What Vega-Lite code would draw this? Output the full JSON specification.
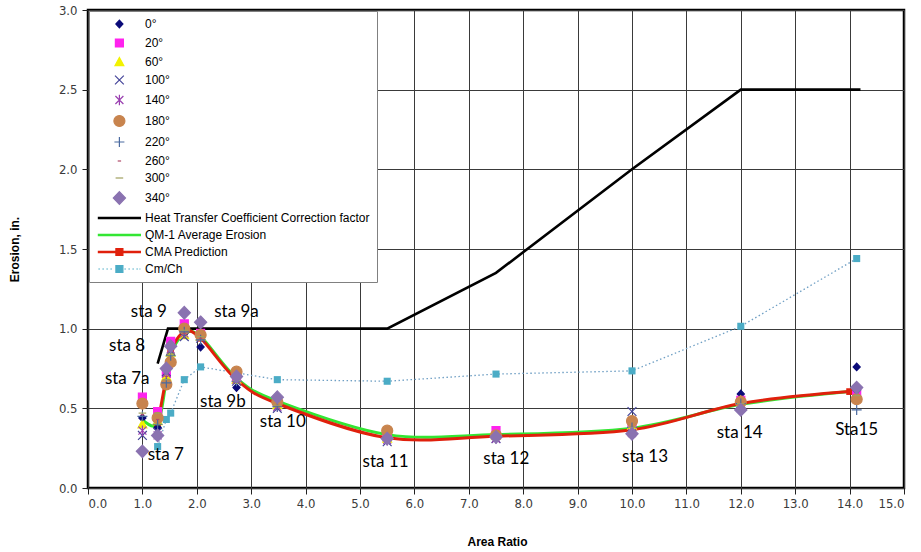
{
  "$schema": "https://vega.github.io/schema/vega-lite/v6.json",
  "width": 816,
  "height": 478,
  "autosize": "none",
  "padding": {"left": 88, "top": 10, "right": 17, "bottom": 64},
  "background": "white",
  "config": {
    "view": {"stroke": "black", "strokeWidth": 2.5},
    "axis": {
      "grid": true,
      "gridColor": "#3a3a3a",
      "gridWidth": 1,
      "domain": false,
      "tickColor": "#222222",
      "tickSize": 6,
      "labelFont": "Liberation Sans Narrow, DejaVu Sans Condensed, Liberation Sans",
      "labelFontSize": 13,
      "labelColor": "#3a3a3a",
      "titleFont": "Liberation Sans",
      "titleFontSize": 12,
      "titleFontWeight": "bold",
      "titleColor": "black"
    },
    "legend": {
      "orient": "top-left",
      "offset": 1,
      "fillColor": "white",
      "strokeColor": "#808080",
      "padding": 7,
      "rowPadding": 5,
      "labelFont": "Liberation Sans",
      "labelFontSize": 12,
      "labelColor": "black",
      "labelOffset": 37,
      "labelLimit": 400,
      "symbolSize": 100,
      "symbolStrokeWidth": 1.2,
      "symbolOpacity": 1
    }
  },
  "resolve": {"scale": {"fill": "independent", "stroke": "independent", "shape": "independent"}},
  "datasets": {
    "angles": [
      {"s": "0°", "x": 1.0, "y": 0.44}, {"s": "0°", "x": 1.28, "y": 0.38}, {"s": "0°", "x": 1.44, "y": 0.68}, {"s": "0°", "x": 1.52, "y": 0.84}, {"s": "0°", "x": 1.77, "y": 0.97}, {"s": "0°", "x": 2.07, "y": 0.885}, {"s": "0°", "x": 2.73, "y": 0.63}, {"s": "0°", "x": 3.48, "y": 0.52}, {"s": "0°", "x": 5.5, "y": 0.30}, {"s": "0°", "x": 7.5, "y": 0.32}, {"s": "0°", "x": 10.0, "y": 0.36}, {"s": "0°", "x": 12.0, "y": 0.59}, {"s": "0°", "x": 14.13, "y": 0.76},
      {"s": "20°", "x": 1.0, "y": 0.57}, {"s": "20°", "x": 1.28, "y": 0.48}, {"s": "20°", "x": 1.44, "y": 0.72}, {"s": "20°", "x": 1.52, "y": 0.92}, {"s": "20°", "x": 1.77, "y": 1.03}, {"s": "20°", "x": 2.07, "y": 0.97}, {"s": "20°", "x": 2.73, "y": 0.69}, {"s": "20°", "x": 3.48, "y": 0.54}, {"s": "20°", "x": 5.5, "y": 0.32}, {"s": "20°", "x": 7.5, "y": 0.36}, {"s": "20°", "x": 10.0, "y": 0.40}, {"s": "20°", "x": 12.0, "y": 0.55}, {"s": "20°", "x": 14.13, "y": 0.60},
      {"s": "60°", "x": 1.0, "y": 0.40}, {"s": "60°", "x": 1.28, "y": 0.42}, {"s": "60°", "x": 1.44, "y": 0.70}, {"s": "60°", "x": 1.52, "y": 0.85}, {"s": "60°", "x": 1.77, "y": 0.96}, {"s": "60°", "x": 2.07, "y": 0.95}, {"s": "60°", "x": 2.73, "y": 0.68}, {"s": "60°", "x": 3.48, "y": 0.52}, {"s": "60°", "x": 5.5, "y": 0.31}, {"s": "60°", "x": 7.5, "y": 0.33}, {"s": "60°", "x": 10.0, "y": 0.39}, {"s": "60°", "x": 12.0, "y": 0.55}, {"s": "60°", "x": 14.13, "y": 0.58},
      {"s": "100°", "x": 1.0, "y": 0.33}, {"s": "100°", "x": 1.28, "y": 0.35}, {"s": "100°", "x": 1.44, "y": 0.73}, {"s": "100°", "x": 1.52, "y": 0.86}, {"s": "100°", "x": 1.77, "y": 0.95}, {"s": "100°", "x": 2.07, "y": 0.94}, {"s": "100°", "x": 2.73, "y": 0.67}, {"s": "100°", "x": 3.48, "y": 0.50}, {"s": "100°", "x": 5.5, "y": 0.29}, {"s": "100°", "x": 7.5, "y": 0.31}, {"s": "100°", "x": 10.0, "y": 0.48}, {"s": "100°", "x": 12.0, "y": 0.53}, {"s": "100°", "x": 14.13, "y": 0.59},
      {"s": "140°", "x": 1.0, "y": 0.36}, {"s": "140°", "x": 1.28, "y": 0.33}, {"s": "140°", "x": 1.44, "y": 0.72}, {"s": "140°", "x": 1.52, "y": 0.87}, {"s": "140°", "x": 1.77, "y": 0.97}, {"s": "140°", "x": 2.07, "y": 0.95}, {"s": "140°", "x": 2.73, "y": 0.68}, {"s": "140°", "x": 3.48, "y": 0.51}, {"s": "140°", "x": 5.5, "y": 0.30}, {"s": "140°", "x": 7.5, "y": 0.31}, {"s": "140°", "x": 10.0, "y": 0.345}, {"s": "140°", "x": 12.0, "y": 0.52}, {"s": "140°", "x": 14.13, "y": 0.60},
      {"s": "180°", "x": 1.0, "y": 0.53}, {"s": "180°", "x": 1.28, "y": 0.44}, {"s": "180°", "x": 1.44, "y": 0.65}, {"s": "180°", "x": 1.52, "y": 0.79}, {"s": "180°", "x": 1.77, "y": 1.00}, {"s": "180°", "x": 2.07, "y": 0.96}, {"s": "180°", "x": 2.73, "y": 0.73}, {"s": "180°", "x": 3.48, "y": 0.54}, {"s": "180°", "x": 5.5, "y": 0.36}, {"s": "180°", "x": 7.5, "y": 0.33}, {"s": "180°", "x": 10.0, "y": 0.42}, {"s": "180°", "x": 12.0, "y": 0.54}, {"s": "180°", "x": 14.13, "y": 0.557},
      {"s": "220°", "x": 1.0, "y": 0.45}, {"s": "220°", "x": 1.28, "y": 0.40}, {"s": "220°", "x": 1.44, "y": 0.66}, {"s": "220°", "x": 1.52, "y": 0.83}, {"s": "220°", "x": 1.77, "y": 0.98}, {"s": "220°", "x": 2.07, "y": 0.93}, {"s": "220°", "x": 2.73, "y": 0.67}, {"s": "220°", "x": 3.48, "y": 0.51}, {"s": "220°", "x": 5.5, "y": 0.31}, {"s": "220°", "x": 7.5, "y": 0.32}, {"s": "220°", "x": 10.0, "y": 0.38}, {"s": "220°", "x": 12.0, "y": 0.53}, {"s": "220°", "x": 14.13, "y": 0.49},
      {"s": "260°", "x": 1.0, "y": 0.46}, {"s": "260°", "x": 1.28, "y": 0.43}, {"s": "260°", "x": 1.44, "y": 0.70}, {"s": "260°", "x": 1.52, "y": 0.86}, {"s": "260°", "x": 1.77, "y": 0.97}, {"s": "260°", "x": 2.07, "y": 0.94}, {"s": "260°", "x": 2.73, "y": 0.68}, {"s": "260°", "x": 3.48, "y": 0.52}, {"s": "260°", "x": 5.5, "y": 0.31}, {"s": "260°", "x": 7.5, "y": 0.33}, {"s": "260°", "x": 10.0, "y": 0.37}, {"s": "260°", "x": 12.0, "y": 0.52}, {"s": "260°", "x": 14.13, "y": 0.60},
      {"s": "300°", "x": 1.0, "y": 0.47}, {"s": "300°", "x": 1.28, "y": 0.47}, {"s": "300°", "x": 1.44, "y": 0.68}, {"s": "300°", "x": 1.52, "y": 0.84}, {"s": "300°", "x": 1.77, "y": 0.99}, {"s": "300°", "x": 2.07, "y": 0.95}, {"s": "300°", "x": 2.73, "y": 0.68}, {"s": "300°", "x": 3.48, "y": 0.52}, {"s": "300°", "x": 5.5, "y": 0.32}, {"s": "300°", "x": 7.5, "y": 0.33}, {"s": "300°", "x": 10.0, "y": 0.38}, {"s": "300°", "x": 12.0, "y": 0.53}, {"s": "300°", "x": 14.13, "y": 0.58},
      {"s": "340°", "x": 1.0, "y": 0.23}, {"s": "340°", "x": 1.28, "y": 0.33}, {"s": "340°", "x": 1.44, "y": 0.75}, {"s": "340°", "x": 1.52, "y": 0.89}, {"s": "340°", "x": 1.77, "y": 1.10}, {"s": "340°", "x": 2.07, "y": 1.04}, {"s": "340°", "x": 2.73, "y": 0.70}, {"s": "340°", "x": 3.48, "y": 0.57}, {"s": "340°", "x": 5.5, "y": 0.31}, {"s": "340°", "x": 7.5, "y": 0.32}, {"s": "340°", "x": 10.0, "y": 0.34}, {"s": "340°", "x": 12.0, "y": 0.49}, {"s": "340°", "x": 14.13, "y": 0.63}
    ],
    "htc": [
      {"x": 1.28, "y": 0.78}, {"x": 1.47, "y": 1.0}, {"x": 5.5, "y": 1.0}, {"x": 7.5, "y": 1.35}, {"x": 10.0, "y": 2.0}, {"x": 12.0, "y": 2.5}, {"x": 14.2, "y": 2.5}
    ],
    "qm1": [
      {"x": 1.0, "y": 0.43}, {"x": 1.28, "y": 0.40}, {"x": 1.44, "y": 0.68}, {"x": 1.52, "y": 0.84}, {"x": 1.77, "y": 0.97}, {"x": 2.07, "y": 0.95}, {"x": 2.73, "y": 0.69}, {"x": 3.48, "y": 0.545}, {"x": 5.5, "y": 0.335}, {"x": 7.5, "y": 0.335}, {"x": 10.0, "y": 0.375}, {"x": 12.0, "y": 0.525}, {"x": 14.0, "y": 0.605}
    ],
    "cma": [
      {"x": 1.28, "y": 0.40}, {"x": 1.44, "y": 0.70}, {"x": 1.52, "y": 0.86}, {"x": 1.77, "y": 0.98}, {"x": 2.07, "y": 0.94}, {"x": 2.73, "y": 0.68}, {"x": 3.48, "y": 0.53}, {"x": 5.5, "y": 0.315}, {"x": 7.5, "y": 0.325}, {"x": 10.0, "y": 0.365}, {"x": 12.0, "y": 0.53}, {"x": 14.0, "y": 0.605}
    ],
    "cmch": [
      {"x": 1.28, "y": 0.26}, {"x": 1.44, "y": 0.43}, {"x": 1.52, "y": 0.47}, {"x": 1.77, "y": 0.68}, {"x": 2.07, "y": 0.76}, {"x": 3.48, "y": 0.68}, {"x": 5.5, "y": 0.67}, {"x": 7.5, "y": 0.715}, {"x": 10.0, "y": 0.735}, {"x": 12.0, "y": 1.015}, {"x": 14.13, "y": 1.44}
    ],
    "stations": [
      {"t": "sta 9", "x": 1.12, "y": 1.105}, {"t": "sta 9a", "x": 2.73, "y": 1.105},
      {"t": "sta 8", "x": 0.72, "y": 0.89}, {"t": "sta 7a", "x": 0.72, "y": 0.684},
      {"t": "sta 9b", "x": 2.48, "y": 0.54}, {"t": "sta 7", "x": 1.43, "y": 0.207},
      {"t": "sta 10", "x": 3.58, "y": 0.414}, {"t": "sta 11", "x": 5.47, "y": 0.163},
      {"t": "sta 12", "x": 7.69, "y": 0.18}, {"t": "sta 13", "x": 10.24, "y": 0.195},
      {"t": "sta 14", "x": 11.98, "y": 0.345}, {"t": "Sta15", "x": 14.13, "y": 0.364}
    ]
  },
  "encoding": {
    "x": {
      "field": "x", "type": "quantitative",
      "scale": {"domain": [0, 15], "nice": false, "zero": false},
      "axis": {"values": [0,1,2,3,4,5,6,7,8,9,10,11,12,13,14,15], "format": ".1f", "title": "Area Ratio", "titleX": 409, "titleY": 48, "labelPadding": 3}
    },
    "y": {
      "field": "y", "type": "quantitative",
      "scale": {"domain": [0, 3], "nice": false},
      "axis": {"values": [0,0.5,1,1.5,2,2.5,3], "format": ".1f", "title": "Erosion, in.", "titleX": -67, "titleY": 239, "labelPadding": 5}
    }
  },
  "layer": [
    {
      "data": {"name": "htc"},
      "mark": {"type": "line", "color": "black", "strokeWidth": 2.6},
      "encoding": {}
    },
    {
      "data": {"name": "cmch"},
      "mark": {"type": "line", "color": "#6f9fc4", "strokeWidth": 1.3, "strokeDash": [1.5, 2.5]},
      "encoding": {}
    },
    {
      "data": {"name": "cmch"},
      "mark": {"type": "square", "color": "#4bacc6", "size": 50, "opacity": 1},
      "encoding": {}
    },
    {
      "data": {"name": "qm1"},
      "mark": {"type": "line", "color": "#33e633", "strokeWidth": 3, "interpolate": "cardinal"},
      "encoding": {}
    },
    {
      "data": {"name": "cma"},
      "mark": {"type": "line", "color": "#e0200c", "strokeWidth": 3, "interpolate": "cardinal"},
      "encoding": {}
    },
    {
      "data": {"name": "cma"},
      "mark": {"type": "square", "color": "#e0200c", "size": 45, "opacity": 1},
      "encoding": {}
    },
    {
      "data": {"name": "angles"},
      "mark": {"type": "point", "filled": true, "opacity": 1, "strokeWidth": 1.2, "size": 100},
      "encoding": {
        "fill": {"field": "s", "type": "nominal", "legend": null, "scale": {"domain": ["0°","20°","60°","100°","140°","180°","220°","260°","300°","340°"], "range": ["#0a0a78","#ff22ee","#f2f200","#46469a","#9a3fb0","#c8844e","#4a6aa0","#b04a6a","#a0a060","#8a72b0"]}},
        "stroke": {"field": "s", "type": "nominal", "legend": null, "scale": {"domain": ["0°","20°","60°","100°","140°","180°","220°","260°","300°","340°"], "range": ["#0a0a78","#ff22ee","#f2f200","#46469a","#9a3fb0","#c8844e","#4a6aa0","#b04a6a","#a0a060","#8a72b0"]}},
        "shape": {"field": "s", "type": "nominal", "legend": null, "scale": {"domain": ["0°","20°","60°","100°","140°","180°","220°","260°","300°","340°"], "range": [
          "M0,-0.76L0.71,0L0,0.76L-0.71,0Z",
          "M-0.8,-0.8L0.8,-0.8L0.8,0.8L-0.8,0.8Z",
          "M0,-0.88L0.88,0.72L-0.88,0.72Z",
          "M-0.88,-0.88L0.88,0.88M-0.88,0.88L0.88,-0.88",
          "M-0.8,-0.8L0.8,0.8M-0.8,0.8L0.8,-0.8M0,-1.05L0,1.05",
          "M-1.1,0A1.1,1.1 0 1,0 1.1,0A1.1,1.1 0 1,0 -1.1,0Z",
          "M-1,0L1,0M0,-1L0,1",
          "M-0.34,0L0.34,0",
          "M-0.76,0L0.76,0",
          "M0,-1.26L1.22,0L0,1.26L-1.22,0Z"
        ]}}
      }
    },
    {
      "data": {"name": "angles"},
      "mark": {"type": "point", "filled": true, "opacity": 0, "strokeWidth": 1.2, "size": 100},
      "encoding": {
        "fill": {"field": "s", "type": "nominal", "title": null, "scale": {"domain": ["0°","20°","60°","100°","140°","180°","220°","260°","300°","340°","Heat Transfer Coefficient Correction factor","QM-1 Average  Erosion","CMA Prediction","Cm/Ch"], "range": ["#0a0a78","#ff22ee","#f2f200","#46469a","#9a3fb0","#c8844e","#4a6aa0","#b04a6a","#a0a060","#8a72b0","#000000","#33e633","#e0200c","#4bacc6"]}},
        "stroke": {"field": "s", "type": "nominal", "title": null, "scale": {"domain": ["0°","20°","60°","100°","140°","180°","220°","260°","300°","340°","Heat Transfer Coefficient Correction factor","QM-1 Average  Erosion","CMA Prediction","Cm/Ch"], "range": ["#0a0a78","#ff22ee","#f2f200","#46469a","#9a3fb0","#c8844e","#4a6aa0","#b04a6a","#a0a060","#8a72b0","#000000","#33e633","#e0200c","#4bacc6"]}},
        "shape": {"field": "s", "type": "nominal", "title": null, "scale": {"domain": ["0°","20°","60°","100°","140°","180°","220°","260°","300°","340°","Heat Transfer Coefficient Correction factor","QM-1 Average  Erosion","CMA Prediction","Cm/Ch"], "range": [
          "M3.48,-0.76L4.19,0L3.48,0.76L2.77,0Z",
          "M2.68,-0.8L4.28,-0.8L4.28,0.8L2.68,0.8Z",
          "M3.48,-0.88L4.36,0.72L2.6,0.72Z",
          "M2.6,-0.88L4.36,0.88M2.6,0.88L4.36,-0.88",
          "M2.68,-0.8L4.28,0.8M2.68,0.8L4.28,-0.8M3.48,-1.05L3.48,1.05",
          "M2.38,0A1.1,1.1 0 1,0 4.58,0A1.1,1.1 0 1,0 2.38,0Z",
          "M2.48,0L4.48,0M3.48,-1L3.48,1",
          "M3.14,0L3.82,0",
          "M2.72,0L4.24,0",
          "M3.48,-1.26L4.7,0L3.48,1.26L2.26,0Z",
          "M-0.72,-0.14L7.68,-0.14L7.68,0.14L-0.72,0.14Z",
          "M-0.72,-0.14L7.68,-0.14L7.68,0.14L-0.72,0.14Z",
          "M-0.72,-0.14L7.68,-0.14L7.68,0.14L-0.72,0.14ZM2.78,-0.7L4.18,-0.7L4.18,0.7L2.78,0.7Z",
          "M-0.72,0L-0.42,0M0.08,0L0.38,0M0.88,0L1.18,0M1.68,0L1.98,0M4.48,0L4.78,0M5.28,0L5.58,0M6.08,0L6.38,0M6.88,0L7.18,0M7.48,0L7.68,0M2.78,-0.7L4.18,-0.7L4.18,0.7L2.78,0.7Z"
        ]}}
      }
    },
    {
      "data": {"name": "stations"},
      "mark": {"type": "text", "font": "Lato", "fontSize": 17, "color": "black", "align": "center", "baseline": "middle"},
      "encoding": {"text": {"field": "t", "type": "nominal"}}
    }
  ]
}
